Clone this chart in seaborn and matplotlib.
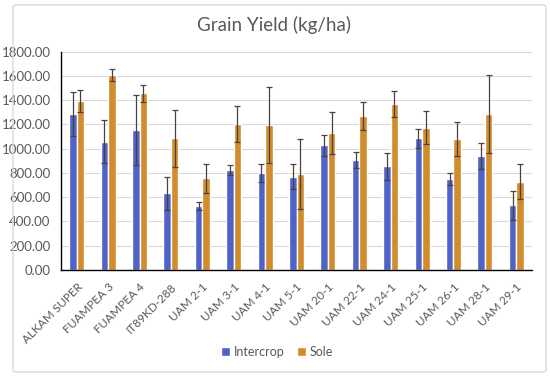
import matplotlib
matplotlib.use("Agg")
import matplotlib.pyplot as plt
from matplotlib.patches import FancyBboxPatch
import seaborn as sns
import pandas as pd
import numpy as np

# Data
varieties = ["ALKAM SUPER", "FUAMPEA 3", "FUAMPEA 4", "IT89KD-288", "UAM 2-1",
             "UAM 3-1", "UAM 4-1", "UAM 5-1", "UAM 20-1", "UAM 22-1",
             "UAM 24-1", "UAM 25-1", "UAM 26-1", "UAM 28-1", "UAM 29-1"]
intercrop = [1286, 1058, 1154, 632, 528, 822, 797, 769, 1028, 907, 855, 1085, 753, 940, 533]
intercrop_err = [180, 175, 286, 135, 30, 41, 74, 102, 85, 69, 110, 80, 49, 104, 121]
sole = [1396, 1608, 1456, 1085, 756, 1201, 1195, 791, 1129, 1270, 1369, 1173, 1080, 1283, 728]
sole_err = [90, 52, 69, 237, 118, 148, 316, 286, 176, 115, 110, 135, 143, 322, 146]

df = pd.DataFrame({
    "Variety": varieties * 2,
    "Yield": intercrop + sole,
    "Err": intercrop_err + sole_err,
    "System": ["Intercrop"] * len(varieties) + ["Sole"] * len(varieties),
})

sns.set_style("white")
plt.rcParams["font.family"] = ["Lato", "DejaVu Sans"]
text_col = "#595959"

fig = plt.figure(figsize=(5.5, 3.76), dpi=100)
ax = fig.add_axes([61 / 550, 1 - 270 / 376, 471 / 550, 218.3 / 376])

# outer chart frame
fig.patches.append(FancyBboxPatch((13 / 550, 4 / 376), 533 / 550, 367 / 376,
                                  boxstyle="round,pad=0,rounding_size=0.006",
                                  transform=fig.transFigure, fill=False,
                                  edgecolor="#d9d9d9", linewidth=1.0))

palette = {"Intercrop": "#4f62c6", "Sole": "#d28c2c"}
sns.barplot(data=df, x="Variety", y="Yield", hue="System", palette=palette,
            width=0.48, errorbar=None, saturation=1, ax=ax, zorder=2)

# error bars at the centres of the drawn bars
for cont, errs in zip(ax.containers, [intercrop_err, sole_err]):
    xs = [p.get_x() + p.get_width() / 2 for p in cont.patches]
    ys = [p.get_height() for p in cont.patches]
    ax.errorbar(xs, ys, yerr=errs, fmt="none", ecolor="#4d4040",
                elinewidth=0.9, capsize=2.5, capthick=0.9, zorder=3)

ax.set_ylim(0, 1800)
ax.set_xlim(-0.5, len(varieties) - 0.5)
ax.set_yticks(np.arange(0, 1801, 200))
ax.set_yticklabels([f"{v:.2f}" for v in np.arange(0, 1801, 200)],
                   fontsize=9.5, color=text_col)
ax.yaxis.grid(True, color="#d9d9d9", linewidth=0.8, zorder=0)
ax.set_axisbelow(True)
ax.set_xticks(range(len(varieties)))
ax.set_xticklabels(varieties, rotation=45, ha="right", rotation_mode="anchor",
                   fontsize=8.5, color=text_col)
ax.tick_params(axis="y", length=0, pad=7.5)
ax.tick_params(axis="x", length=0, pad=8)
ax.set_xlabel("")
ax.set_ylabel("")
for s in ["top", "right"]:
    ax.spines[s].set_visible(False)
for s in ["left", "bottom"]:
    ax.spines[s].set_color("black")
    ax.spines[s].set_linewidth(1.0)

fig.text(274 / 550, 1 - 25 / 376, "Grain Yield (kg/ha)", ha="center", va="center",
         fontsize=13.5, color=text_col)

handles, labels = ax.get_legend_handles_labels()
ax.legend(handles, labels, loc="center", bbox_to_anchor=(277 / 550, 1 - 352 / 376),
          bbox_transform=fig.transFigure, ncol=2, frameon=False,
          fontsize=9, labelcolor=text_col, handlelength=0.7, handleheight=0.7,
          handletextpad=0.3, columnspacing=1.0)

fig.savefig("out.png", dpi=100)
